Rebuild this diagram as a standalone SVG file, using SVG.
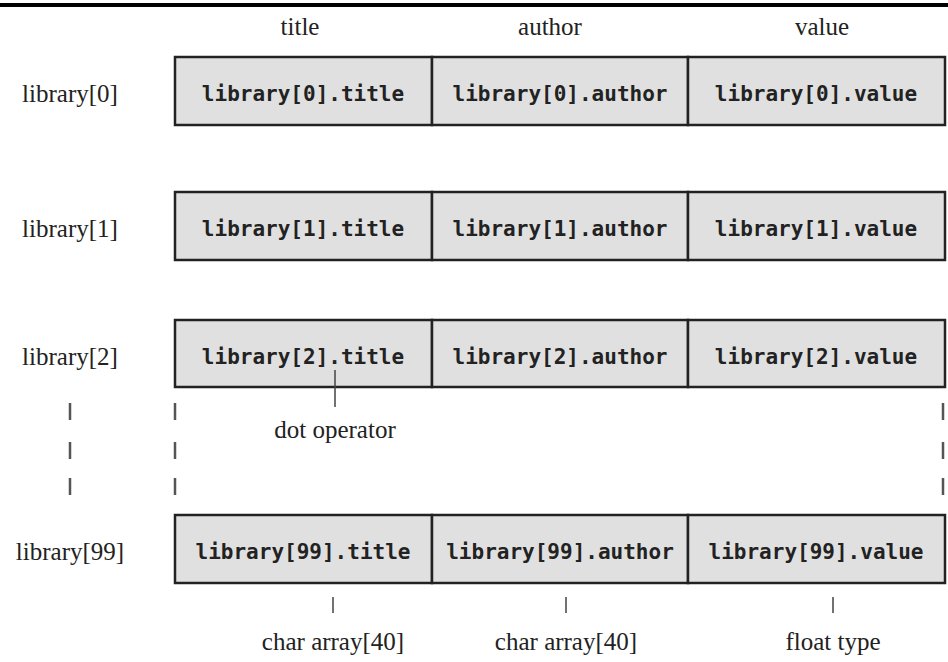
<svg xmlns="http://www.w3.org/2000/svg" width="948" height="662" viewBox="0 0 948 662">
<style>
.s{font-family:"Liberation Serif",serif;font-size:25px;fill:#222;text-anchor:middle}
.m{font-family:"DejaVu Sans Mono","Liberation Mono",monospace;font-size:21px;font-weight:600;fill:#222;text-anchor:middle}
.c{fill:#e0e0e0;stroke:#222;stroke-width:2.5}
.d{stroke:#555;stroke-width:2.5}
.t{stroke:#444;stroke-width:1.5}
</style>
<rect x="0" y="3" width="948" height="4" fill="#000"/>
<text class="s" x="300" y="35">title</text>
<text class="s" x="550" y="35">author</text>
<text class="s" x="822" y="35">value</text>
<g id="row0">
<rect class="c" x="175" y="57" width="257" height="68"/><rect class="c" x="432" y="57" width="256" height="68"/><rect class="c" x="688" y="57" width="257" height="68"/>
<text class="s" x="70" y="102">library[0]</text>
<text class="m" x="303" y="101">library[0].title</text><text class="m" x="560" y="101">library[0].author</text><text class="m" x="816" y="101">library[0].value</text>
</g>
<g id="row1">
<rect class="c" x="175" y="192" width="257" height="68"/><rect class="c" x="432" y="192" width="256" height="68"/><rect class="c" x="688" y="192" width="257" height="68"/>
<text class="s" x="70" y="237">library[1]</text>
<text class="m" x="303" y="236">library[1].title</text><text class="m" x="560" y="236">library[1].author</text><text class="m" x="816" y="236">library[1].value</text>
</g>
<g id="row2">
<rect class="c" x="175" y="320" width="257" height="67"/><rect class="c" x="432" y="320" width="256" height="67"/><rect class="c" x="688" y="320" width="257" height="67"/>
<text class="s" x="70" y="365">library[2]</text>
<text class="m" x="303" y="364">library[2].title</text><text class="m" x="560" y="364">library[2].author</text><text class="m" x="816" y="364">library[2].value</text>
</g>
<g id="row99">
<rect class="c" x="175" y="515" width="257" height="68"/><rect class="c" x="432" y="515" width="256" height="68"/><rect class="c" x="688" y="515" width="257" height="68"/>
<text class="s" x="70" y="560">library[99]</text>
<text class="m" x="303" y="559">library[99].title</text><text class="m" x="560" y="559">library[99].author</text><text class="m" x="816" y="559">library[99].value</text>
</g>
<g id="connectors">
<path class="d" d="M70 403v17M70 442v17M70 478v17M175 403v17M175 442v17M175 478v17M943 403v17M943 442v17M943 478v17"/>
<path class="t" d="M335 370v37M333 597v16M566 597v16M833 597v16"/>
</g>
<text class="s" x="335" y="438">dot operator</text>
<text class="s" x="333" y="650">char array[40]</text>
<text class="s" x="566" y="650">char array[40]</text>
<text class="s" x="833" y="650">float type</text>
</svg>
